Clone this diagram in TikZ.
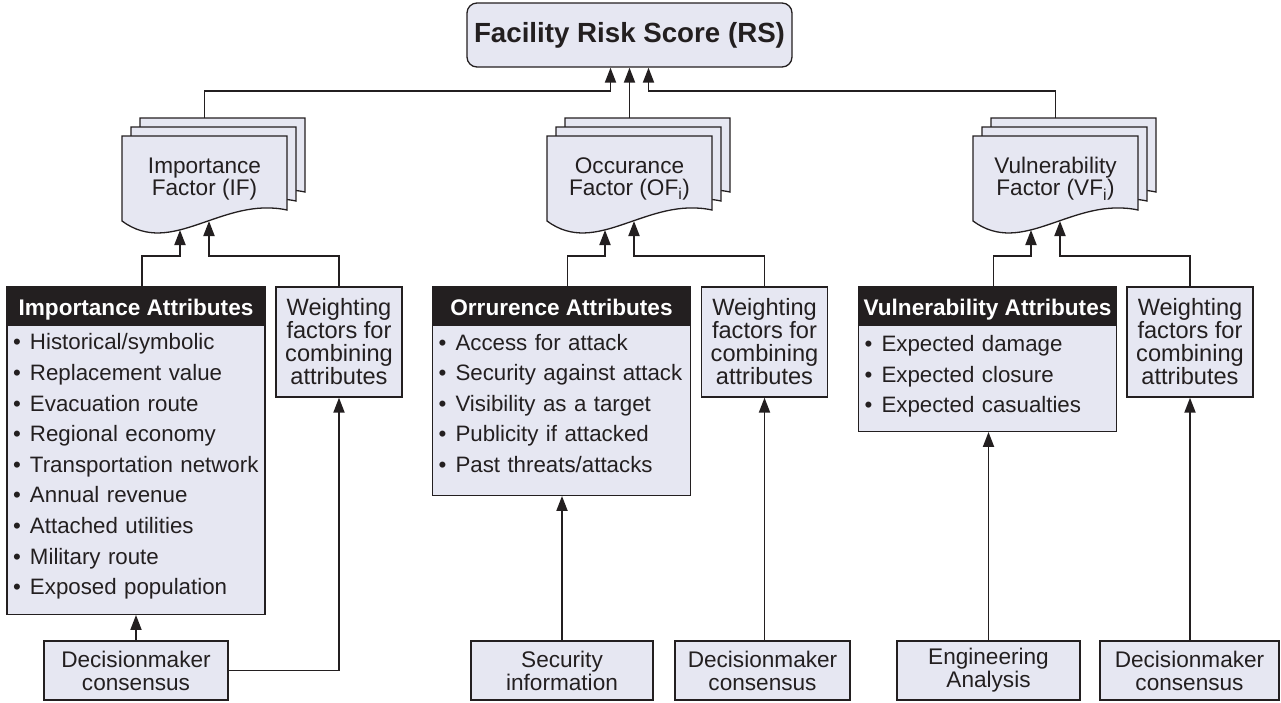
\documentclass[tikz,border=0pt]{standalone}
\usepackage{fontspec}
\setmainfont{Liberation Sans}
\usetikzlibrary{positioning,arrows.meta}

\definecolor{boxfill}{RGB}{230,231,242}
\definecolor{inkcol}{RGB}{35,31,32}

\newcommand{\itm}{\hspace*{6pt}\makebox[17pt][l]{•}}
\newcommand{\lowend}[1]{\rule[-#1]{0pt}{#1}}

% one sheet of a document stack, top left corner at (#1,#2)
\newcommand{\docpage}[2]{%
  \filldraw[docpage] (#1,#2) -- (#1+165,#2) -- (#1+165,#2+74)
    .. controls (#1+100,#2+60) and (#1+50,#2+122) .. (#1,#2+85) -- cycle;}

% three sheets, text node #1 and its anchors
\newcommand{\docstack}[4]{%
  \docpage{#2+18}{#3-18}
  \docpage{#2+9}{#3-9}
  \docpage{#2}{#3}
  \node (#1) [doctext] at (#2+82.5,#3+43) {#4};
  \coordinate (#1top) at (#2+82.5,#3-18);
  \coordinate (#1inl) at (#2+58,#3+94);
  \coordinate (#1inr) at (#2+87,#3+85);}

\tikzset{
  docpage/.style={draw=inkcol, fill=boxfill, line width=1.3pt},
  doctext/.style={align=center, inner sep=0pt, text=inkcol,
                  font=\fontsize{22.6}{22}\selectfont},
  box/.style={rectangle, draw=inkcol, fill=boxfill, line width=1.3pt,
              align=center, inner sep=0pt, text=inkcol,
              font=\fontsize{22.6}{23}\selectfont},
  attrhead/.style={rectangle, draw=inkcol, fill=inkcol, line width=1.3pt,
                   text=white, inner xsep=0pt, inner ysep=0pt,
                   text height=28pt, text depth=9pt, minimum width=258pt,
                   font=\bfseries\fontsize{22.6}{23}\selectfont},
  attrbody/.style={box, align=left, inner xsep=0pt, text width=258pt,
                   font=\fontsize{22.3}{30.6}\selectfont},
  weightbox/.style={box, minimum width=126pt, minimum height=110pt,
                    font=\fontsize{23.6}{23}\selectfont},
  sourcebox/.style={box, minimum height=59pt},
  link/.style={draw=inkcol, line width=1.9pt,
               -{Triangle[length=15pt,width=11pt]}}
}

\begin{document}
\begin{tikzpicture}[x=1pt,y=-1pt]
    \useasboundingbox (0,0) rectangle (1281,702);

    % Facility Risk Score

    \node (riskscore) [box, rounded corners=10pt, minimum width=325pt,
                       minimum height=64pt,
                       font=\bfseries\fontsize{27.7}{30}\selectfont]
          at (629.5,35) {Facility Risk Score (RS)};

    % Factor documents

    \docstack{imp}{122}{136}{Importance\\Factor (IF)}
    \docstack{occ}{547}{136}{Occurance\\Factor (OF\textsubscript{i})}
    \docstack{vul}{973}{136}{Vulnerability\\Factor (VF\textsubscript{i})}

    \draw[link] (imptop) -- ++(0,-27) -| ([xshift=-19pt]riskscore.south);
    \draw[link] (occtop) -- (occtop |- riskscore.south);
    \draw[link] (vultop) -- ++(0,-27) -| ([xshift=19pt]riskscore.south);

    % Importance

    \node (imphead) [attrhead] at (136,305.5) {Importance Attributes};
    \node (impbody) [attrbody, minimum height=289pt, below=0pt of imphead]
          {\itm Historical/symbolic\\ \itm Replacement value\\
           \itm Evacuation route\\ \itm Regional economy\\
           \itm Transportation network\\ \itm Annual revenue\\
           \itm Attached utilities\\ \itm Military route\\
           \itm Exposed population\lowend{11pt}};
    \node (impweight) [weightbox] at (339,342)
          {Weighting\\factors for\\combining\\attributes};
    \node (impdm) [sourcebox, minimum width=184pt] at (136,670.5)
          {Decisionmaker\\consensus};
    \draw[link] ([xshift=6pt]imphead.north) -- ++(0,-30) -| (impinl);
    \draw[link] (impweight.north) -- ++(0,-30) -| (impinr);
    \draw[link] (impdm.north) -- (impdm |- impbody.south);
    \draw[link] (impdm.east) -| (impweight.south);

    % Occurance

    \node (occhead) [attrhead] at (561.5,305.5) {Orrurence Attributes};
    \node (occbody) [attrbody, minimum height=170pt, below=0pt of occhead]
          {\itm Access for attack\\ \itm Security against attack\\
           \itm Visibility as a target\\ \itm Publicity if attacked\\
           \itm Past threats/attacks\lowend{14pt}};
    \node (occweight) [weightbox] at (764.5,342)
          {Weighting\\factors for\\combining\\attributes};
    \node (secinfo) [sourcebox, minimum width=182pt] at (562,670.5)
          {Security\\information};
    \node (occdm) [sourcebox, minimum width=175pt] at (762.5,670.5)
          {Decisionmaker\\consensus};
    \draw[link] ([xshift=6pt]occhead.north) -- ++(0,-30) -| (occinl);
    \draw[link] (occweight.north) -- ++(0,-30) -| (occinr);
    \draw[link] (secinfo.north) -- (secinfo |- occbody.south);
    \draw[link] (occweight.south |- occdm.north) -- (occweight.south);

    % Vulnerability

    \node (vulhead) [attrhead] at (987.5,305.5) {Vulnerability Attributes};
    \node (vulbody) [attrbody, minimum height=106pt, below=0pt of vulhead]
          {\itm Expected damage\\ \itm Expected closure\\
           \itm Expected casualties\lowend{8pt}};
    \node (vulweight) [weightbox] at (1190,342)
          {Weighting\\factors for\\combining\\attributes};
    \node (enganal) [sourcebox, minimum width=183pt] at (988.5,670.5)
          {Engineering\\Analysis};
    \node (vuldm) [sourcebox, minimum width=179pt] at (1189.5,670.5)
          {Decisionmaker\\consensus};
    \draw[link] ([xshift=6pt]vulhead.north) -- ++(0,-30) -| (vulinl);
    \draw[link] (vulweight.north) -- ++(0,-30) -| (vulinr);
    \draw[link] (enganal.north) -- (enganal |- vulbody.south);
    \draw[link] (vulweight.south |- vuldm.north) -- (vulweight.south);
\end{tikzpicture}
\end{document}
